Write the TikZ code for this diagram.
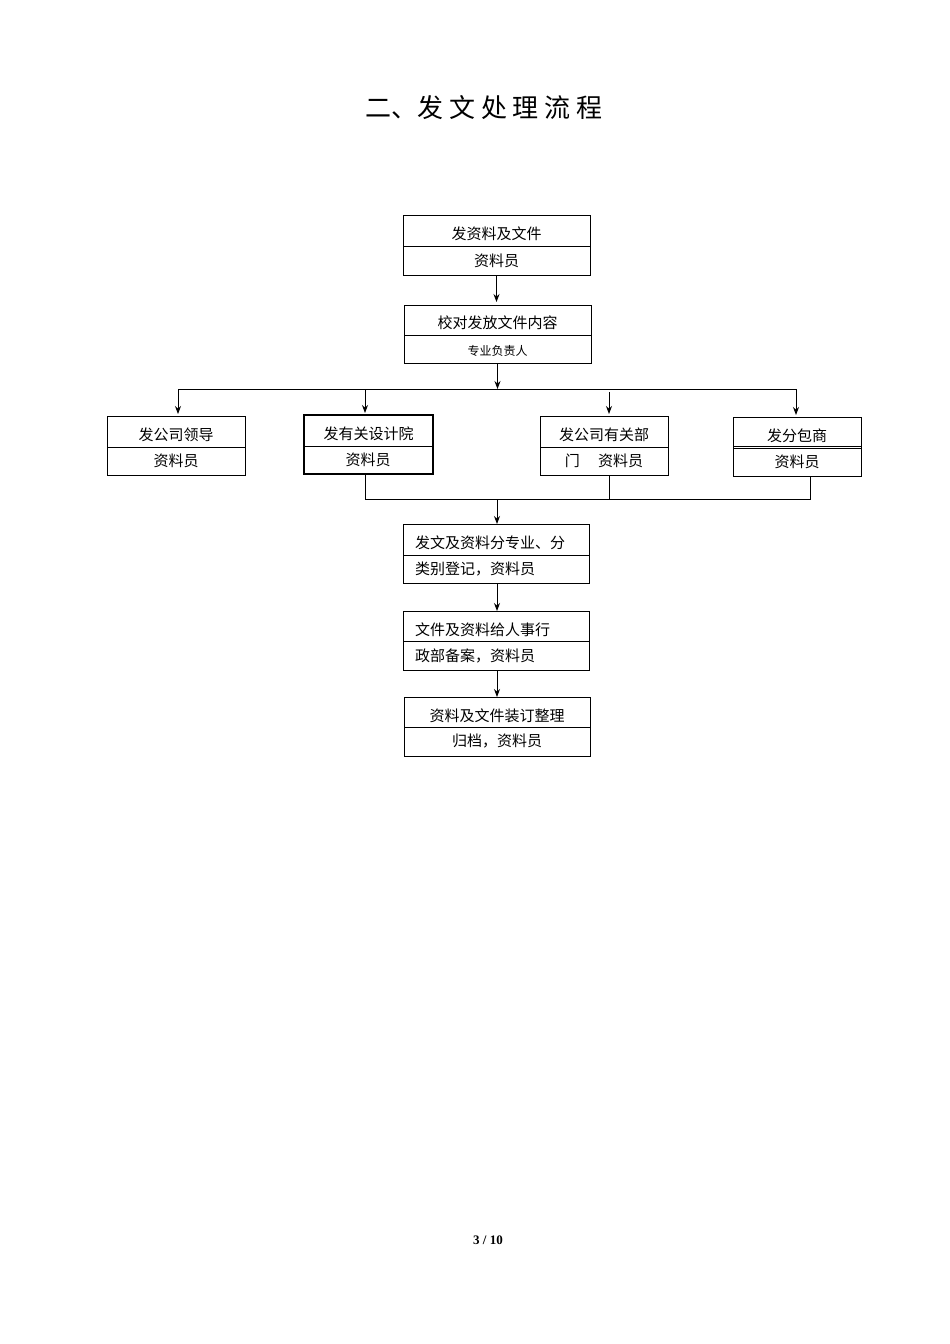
\documentclass[tikz,border=0pt]{standalone}
\usetikzlibrary{arrows.meta}
\usepackage{fontspec}
\newfontfamily\cjk{Noto Sans CJK SC}
\setmainfont{Liberation Serif}
\begin{document}
\begin{tikzpicture}[x=1pt,y=-1pt,
  bx/.style={draw,line width=0.9pt},
  thk/.style={draw,line width=2pt},
  ln/.style={line width=0.9pt},
  ar/.style={ln,-{Stealth[length=8pt,width=6pt]}},
  tx/.style={font=\cjk\fontsize{15}{15}\selectfont,inner sep=0pt},
  sx/.style={font=\cjk\fontsize{12}{12}\selectfont,inner sep=0pt}]
\useasboundingbox (0,0) rectangle (950,1344);
\node[font=\cjk\fontsize{26}{26}\selectfont] (title) at (484,108) {二、发\ 文\ 处\ 理\ 流\ 程};
\newcommand{\twobox}[8]{%
  \draw[#8] (#2,#3) rectangle (#4,#5); \draw[ln] (#2,#6)--(#4,#6);
  \coordinate (#1t) at ({(#2+#4)/2},#3); \coordinate (#1b) at ({(#2+#4)/2},#5);
  \node[tx] (#1a) at ({(#2+#4)/2},{(#3+#6)/2+3}) {#7};}
\twobox{b1}{403}{215}{590}{275}{246}{发资料及文件}{bx}
\node[tx] (b1s) at (496.5,261) {资料员};
\twobox{b2}{404}{305}{591}{363}{335}{校对发放文件内容}{bx}
\node[sx] (b2s) at (497.5,351) {专业负责人};
\twobox{b3}{107}{416}{245}{475}{447}{发公司领导}{bx}
\node[tx] (b3s) at (176,461) {资料员};
\twobox{b4}{304}{415}{433}{474}{446}{发有关设计院}{thk}
\node[tx] (b4s) at (368,460) {资料员};
\twobox{b5}{540}{416}{668}{475}{447}{发公司有关部}{bx}
\node[tx] (b5s) at (604,461) {门\quad\ 资料员};
\twobox{b6}{733}{417}{861}{476}{448}{发分包商}{bx}
\draw[ln] (733,446)--(861,446);
\node[tx] (b6s) at (797,462) {资料员};
\draw[bx] (403,524) rectangle (589,583); \draw[ln] (403,555)--(589,555);
\node[tx,anchor=west] (b7a) at (415,543) {发文及资料分专业、分};
\node[tx,anchor=west] (b7s) at (415,569) {类别登记，资料员};
\coordinate (b7t) at (497,524); \coordinate (b7b) at (497,583);
\draw[bx] (403,611) rectangle (589,670); \draw[ln] (403,641)--(589,641);
\node[tx,anchor=west] (b8a) at (415,630) {文件及资料给人事行};
\node[tx,anchor=west] (b8s) at (415,656) {政部备案，资料员};
\coordinate (b8t) at (497,611); \coordinate (b8b) at (497,670);
\draw[bx] (404,697) rectangle (590,756); \draw[ln] (404,727)--(590,727);
\node[tx] (b9a) at (497,716) {资料及文件装订整理};
\node[tx] (b9s) at (497,741) {归档，资料员};
\coordinate (b9t) at (497,697);
\draw[ar] (b1b) -- (496.5,302);
\draw[ar] (497.5,363) -- (497.5,389);
\draw[ln] (178,389) -- (796,389);
\draw[ar] (178,389) -- (178,414);
\draw[ar] (365,389) -- (365,413);
\draw[ar] (609,392) -- (609,414);
\draw[ar] (796,389) -- (796,415);
\draw[ln] (365,474) -- (365,499) -- (810,499) -- (810,476);
\draw[ln] (609,475) -- (609,499);
\draw[ar] (497,499) -- (b7t);
\draw[ar] (b7b) -- (b8t);
\draw[ar] (b8b) -- (b9t);
\node[font=\bfseries\fontsize{13}{13}\selectfont] (pg) at (488,1240) {3\ /\ 10};
\end{tikzpicture}
\end{document}
